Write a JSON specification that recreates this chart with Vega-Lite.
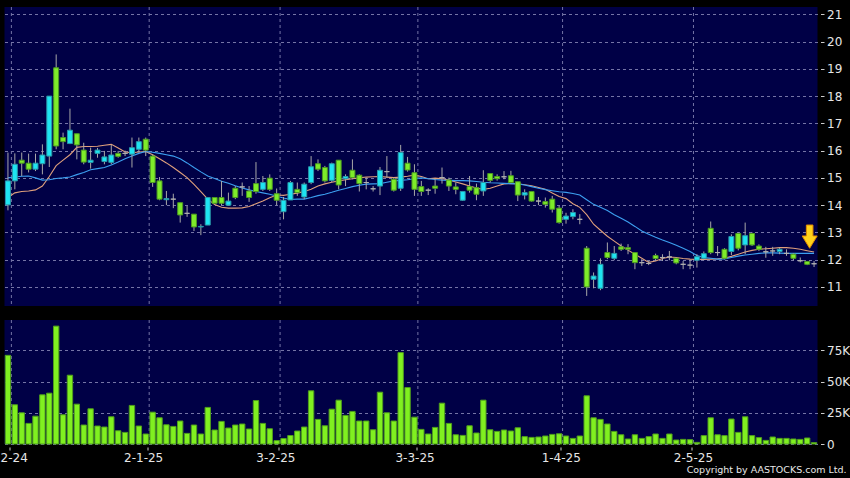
{
  "$schema": "https://vega.github.io/schema/vega-lite/v6.json",
  "background": "#000000",
  "padding": {"left": -19.5, "top": 6, "right": 0, "bottom": 3},
  "autosize": {"type": "pad"},
  "bounds": "flush",
  "spacing": 14,
  "title": {"text": "Copyright by AASTOCKS.com Ltd.", "orient": "bottom", "anchor": "end", "font": "DejaVu Sans", "fontSize": 9.5, "fontWeight": "normal", "color": "#e8e8e8", "offset": 2, "dx": -3},
  "config": {
    "view": {"fill": "#000046", "stroke": null},
    "axis": {"labelFont": "DejaVu Sans", "labelFontSize": 12, "labelColor": "#e6e6e6", "tickColor": "#cccccc", "domain": false, "gridColor": "#7474a6", "gridDash": [3, 3], "gridWidth": 1}
  },
  "datasets": {
    "p": [
      {"d":"2024-12-02","o":14.01,"h":15.93,"l":13.81,"c":14.89,"v":71000,"m1":14.28,"m2":15.0},
      {"d":"2024-12-03","o":14.89,"h":15.9,"l":14.58,"c":15.5,"v":31400,"m1":14.45,"m2":15.03},
      {"d":"2024-12-04","o":15.65,"h":15.93,"l":15.07,"c":15.54,"v":25000,"m1":14.5,"m2":15.06},
      {"d":"2024-12-05","o":15.54,"h":15.89,"l":15.2,"c":15.32,"v":16500,"m1":14.52,"m2":15.07},
      {"d":"2024-12-06","o":15.32,"h":15.89,"l":15.25,"c":15.54,"v":22300,"m1":14.56,"m2":15.0},
      {"d":"2024-12-09","o":15.52,"h":16.23,"l":15.13,"c":15.84,"v":39400,"m1":14.7,"m2":14.92},
      {"d":"2024-12-10","o":15.8,"h":18.0,"l":15.4,"c":18.0,"v":40700,"m1":15.05,"m2":14.93},
      {"d":"2024-12-11","o":19.04,"h":19.53,"l":16.05,"c":16.17,"v":94400,"m1":15.45,"m2":14.98},
      {"d":"2024-12-12","o":16.48,"h":16.66,"l":16.05,"c":16.33,"v":23400,"m1":15.65,"m2":15.0},
      {"d":"2024-12-13","o":16.26,"h":17.54,"l":16.24,"c":16.75,"v":55100,"m1":15.85,"m2":15.03},
      {"d":"2024-12-16","o":16.62,"h":16.62,"l":15.68,"c":16.21,"v":31900,"m1":16.12,"m2":15.12},
      {"d":"2024-12-17","o":16.02,"h":16.29,"l":15.5,"c":15.58,"v":15200,"m1":16.15,"m2":15.2},
      {"d":"2024-12-18","o":15.57,"h":16.11,"l":15.34,"c":15.65,"v":28200,"m1":16.15,"m2":15.3},
      {"d":"2024-12-19","o":15.9,"h":16.1,"l":15.74,"c":16.02,"v":14400,"m1":16.16,"m2":15.34},
      {"d":"2024-12-20","o":15.6,"h":15.99,"l":15.5,"c":15.77,"v":13600,"m1":16.2,"m2":15.38},
      {"d":"2024-12-23","o":15.57,"h":16.21,"l":15.5,"c":15.84,"v":21800,"m1":16.23,"m2":15.47},
      {"d":"2024-12-24","o":15.9,"h":15.99,"l":15.74,"c":15.79,"v":10600,"m1":16.1,"m2":15.58},
      {"d":"2024-12-27","o":15.9,"h":16.0,"l":15.8,"c":15.9,"v":9300,"m1":15.95,"m2":15.7},
      {"d":"2024-12-30","o":15.87,"h":16.48,"l":15.38,"c":16.11,"v":30900,"m1":15.92,"m2":15.8},
      {"d":"2024-12-31","o":16.05,"h":16.48,"l":15.93,"c":16.33,"v":14400,"m1":15.95,"m2":15.9},
      {"d":"2025-01-02","o":16.42,"h":16.48,"l":15.8,"c":16.02,"v":8000,"m1":15.97,"m2":15.97},
      {"d":"2025-01-03","o":15.8,"h":15.85,"l":14.67,"c":14.83,"v":25500,"m1":15.85,"m2":15.94},
      {"d":"2025-01-06","o":14.89,"h":15.03,"l":14.18,"c":14.22,"v":21000,"m1":15.7,"m2":15.9},
      {"d":"2025-01-07","o":14.2,"h":14.52,"l":14.0,"c":14.24,"v":15400,"m1":15.55,"m2":15.85},
      {"d":"2025-01-08","o":14.22,"h":14.42,"l":13.89,"c":14.22,"v":14100,"m1":15.38,"m2":15.8},
      {"d":"2025-01-09","o":14.09,"h":14.09,"l":13.36,"c":13.64,"v":18400,"m1":15.2,"m2":15.7},
      {"d":"2025-01-10","o":13.7,"h":13.97,"l":13.57,"c":13.7,"v":8500,"m1":15.01,"m2":15.55},
      {"d":"2025-01-13","o":13.67,"h":13.67,"l":13.05,"c":13.2,"v":15200,"m1":14.76,"m2":15.38},
      {"d":"2025-01-14","o":13.2,"h":13.3,"l":12.9,"c":13.22,"v":8000,"m1":14.5,"m2":15.22},
      {"d":"2025-01-15","o":13.27,"h":14.3,"l":13.27,"c":14.28,"v":29300,"m1":14.22,"m2":15.07},
      {"d":"2025-01-16","o":14.28,"h":14.28,"l":14.07,"c":14.07,"v":11200,"m1":14.02,"m2":14.98},
      {"d":"2025-01-17","o":14.28,"h":14.89,"l":14.0,"c":14.07,"v":18100,"m1":13.92,"m2":14.88},
      {"d":"2025-01-20","o":14.0,"h":14.46,"l":13.98,"c":14.15,"v":12800,"m1":13.89,"m2":14.8},
      {"d":"2025-01-21","o":14.62,"h":14.7,"l":14.22,"c":14.28,"v":15200,"m1":13.89,"m2":14.71},
      {"d":"2025-01-22","o":14.67,"h":14.83,"l":14.34,"c":14.67,"v":16000,"m1":13.9,"m2":14.63},
      {"d":"2025-01-23","o":14.52,"h":14.7,"l":14.12,"c":14.28,"v":12000,"m1":13.95,"m2":14.56},
      {"d":"2025-01-24","o":14.79,"h":15.58,"l":14.42,"c":14.5,"v":34800,"m1":14.05,"m2":14.5},
      {"d":"2025-01-27","o":14.58,"h":15.07,"l":14.52,"c":14.83,"v":16500,"m1":14.15,"m2":14.45},
      {"d":"2025-01-28","o":14.99,"h":15.13,"l":14.52,"c":14.58,"v":12200,"m1":14.27,"m2":14.4},
      {"d":"2025-02-03","o":14.42,"h":14.61,"l":14.0,"c":14.18,"v":2700,"m1":14.37,"m2":14.33},
      {"d":"2025-02-04","o":13.76,"h":14.3,"l":13.48,"c":14.18,"v":4400,"m1":14.36,"m2":14.26},
      {"d":"2025-02-05","o":14.19,"h":14.89,"l":14.19,"c":14.83,"v":6800,"m1":14.4,"m2":14.21},
      {"d":"2025-02-06","o":14.58,"h":14.83,"l":14.34,"c":14.46,"v":10400,"m1":14.44,"m2":14.22},
      {"d":"2025-02-07","o":14.3,"h":14.83,"l":14.22,"c":14.77,"v":13600,"m1":14.5,"m2":14.22},
      {"d":"2025-02-10","o":14.83,"h":15.8,"l":14.77,"c":15.41,"v":42600,"m1":14.58,"m2":14.28},
      {"d":"2025-02-11","o":15.52,"h":15.68,"l":15.25,"c":15.32,"v":19700,"m1":14.7,"m2":14.35},
      {"d":"2025-02-12","o":15.38,"h":15.44,"l":14.83,"c":14.89,"v":14600,"m1":14.78,"m2":14.4},
      {"d":"2025-02-13","o":14.91,"h":15.56,"l":14.85,"c":15.52,"v":27900,"m1":14.84,"m2":14.47},
      {"d":"2025-02-14","o":15.65,"h":15.65,"l":14.58,"c":14.74,"v":35100,"m1":14.89,"m2":14.55},
      {"d":"2025-02-17","o":14.97,"h":15.13,"l":14.7,"c":15.05,"v":22900,"m1":14.93,"m2":14.61},
      {"d":"2025-02-18","o":15.28,"h":15.68,"l":14.95,"c":15.01,"v":26100,"m1":14.97,"m2":14.68},
      {"d":"2025-02-19","o":15.1,"h":15.13,"l":14.5,"c":14.79,"v":18400,"m1":15.0,"m2":14.73},
      {"d":"2025-02-20","o":14.83,"h":15.01,"l":14.58,"c":14.83,"v":18400,"m1":15.03,"m2":14.77},
      {"d":"2025-02-21","o":14.6,"h":14.7,"l":14.5,"c":14.6,"v":11400,"m1":15.04,"m2":14.78},
      {"d":"2025-02-24","o":14.7,"h":15.4,"l":14.37,"c":15.28,"v":41500,"m1":15.05,"m2":14.79},
      {"d":"2025-02-25","o":15.23,"h":15.8,"l":15.01,"c":15.23,"v":25000,"m1":15.03,"m2":14.84},
      {"d":"2025-02-26","o":14.95,"h":15.0,"l":14.5,"c":14.55,"v":18400,"m1":15.01,"m2":14.89},
      {"d":"2025-02-27","o":14.62,"h":16.21,"l":14.52,"c":15.93,"v":73200,"m1":15.03,"m2":14.91},
      {"d":"2025-02-28","o":15.54,"h":15.77,"l":15.23,"c":15.29,"v":45200,"m1":15.06,"m2":14.93},
      {"d":"2025-03-03","o":15.19,"h":15.5,"l":14.34,"c":14.58,"v":21500,"m1":15.1,"m2":14.97},
      {"d":"2025-03-04","o":14.68,"h":14.89,"l":14.34,"c":14.5,"v":11700,"m1":15.05,"m2":15.0},
      {"d":"2025-03-05","o":14.55,"h":14.62,"l":14.37,"c":14.55,"v":8000,"m1":14.97,"m2":14.97},
      {"d":"2025-03-06","o":14.7,"h":14.95,"l":14.42,"c":14.62,"v":13300,"m1":14.99,"m2":14.94},
      {"d":"2025-03-07","o":15.01,"h":15.38,"l":14.79,"c":15.01,"v":32700,"m1":14.97,"m2":14.92},
      {"d":"2025-03-10","o":14.92,"h":15.01,"l":14.52,"c":14.7,"v":16500,"m1":14.92,"m2":14.91},
      {"d":"2025-03-11","o":14.67,"h":14.83,"l":14.4,"c":14.58,"v":7400,"m1":14.85,"m2":14.9},
      {"d":"2025-03-12","o":14.18,"h":14.52,"l":14.16,"c":14.5,"v":6900,"m1":14.78,"m2":14.9},
      {"d":"2025-03-13","o":14.68,"h":15.07,"l":14.46,"c":14.55,"v":14600,"m1":14.7,"m2":14.89},
      {"d":"2025-03-14","o":14.64,"h":14.79,"l":14.18,"c":14.4,"v":8800,"m1":14.63,"m2":14.87},
      {"d":"2025-03-17","o":14.52,"h":15.28,"l":14.34,"c":14.83,"v":35100,"m1":14.58,"m2":14.84},
      {"d":"2025-03-18","o":15.16,"h":15.16,"l":14.83,"c":14.91,"v":11400,"m1":14.62,"m2":14.82},
      {"d":"2025-03-19","o":15.05,"h":15.13,"l":14.9,"c":14.97,"v":10100,"m1":14.7,"m2":14.81},
      {"d":"2025-03-20","o":15.04,"h":15.25,"l":14.95,"c":15.04,"v":11200,"m1":14.78,"m2":14.8},
      {"d":"2025-03-21","o":15.08,"h":15.26,"l":14.79,"c":14.83,"v":10400,"m1":14.8,"m2":14.79},
      {"d":"2025-03-24","o":14.86,"h":14.86,"l":14.15,"c":14.37,"v":13000,"m1":14.78,"m2":14.78},
      {"d":"2025-03-25","o":14.37,"h":14.58,"l":14.21,"c":14.46,"v":5900,"m1":14.75,"m2":14.74},
      {"d":"2025-03-26","o":14.5,"h":14.52,"l":14.13,"c":14.15,"v":5300,"m1":14.71,"m2":14.68},
      {"d":"2025-03-27","o":14.15,"h":14.3,"l":14.0,"c":14.15,"v":5600,"m1":14.65,"m2":14.62},
      {"d":"2025-03-28","o":14.13,"h":14.28,"l":13.91,"c":14.03,"v":6400,"m1":14.58,"m2":14.57},
      {"d":"2025-03-31","o":14.22,"h":14.34,"l":13.73,"c":13.85,"v":7700,"m1":14.45,"m2":14.53},
      {"d":"2025-04-01","o":13.89,"h":13.97,"l":13.32,"c":13.36,"v":8200,"m1":14.32,"m2":14.49},
      {"d":"2025-04-02","o":13.48,"h":13.72,"l":13.32,"c":13.6,"v":6400,"m1":14.24,"m2":14.47},
      {"d":"2025-04-03","o":13.58,"h":13.85,"l":13.48,"c":13.73,"v":4500,"m1":14.05,"m2":14.43},
      {"d":"2025-04-07","o":13.48,"h":13.67,"l":13.3,"c":13.48,"v":6400,"m1":13.92,"m2":14.37},
      {"d":"2025-04-08","o":12.42,"h":12.5,"l":10.67,"c":11.0,"v":38600,"m1":13.65,"m2":14.2},
      {"d":"2025-04-09","o":11.28,"h":11.53,"l":10.95,"c":11.4,"v":21000,"m1":13.3,"m2":14.03},
      {"d":"2025-04-10","o":10.95,"h":12.05,"l":10.88,"c":11.83,"v":19700,"m1":13.08,"m2":13.92},
      {"d":"2025-04-11","o":12.26,"h":12.63,"l":12.02,"c":12.08,"v":16000,"m1":12.86,"m2":13.8},
      {"d":"2025-04-14","o":12.05,"h":12.5,"l":11.98,"c":12.23,"v":10100,"m1":12.68,"m2":13.65},
      {"d":"2025-04-15","o":12.47,"h":12.59,"l":12.32,"c":12.38,"v":7400,"m1":12.5,"m2":13.52},
      {"d":"2025-04-16","o":12.44,"h":12.57,"l":12.2,"c":12.38,"v":4000,"m1":12.35,"m2":13.38},
      {"d":"2025-04-17","o":12.26,"h":12.26,"l":11.65,"c":11.89,"v":7400,"m1":12.2,"m2":13.22},
      {"d":"2025-04-22","o":11.89,"h":12.02,"l":11.77,"c":11.89,"v":4500,"m1":12.05,"m2":13.05},
      {"d":"2025-04-23","o":11.86,"h":11.95,"l":11.8,"c":11.86,"v":5900,"m1":11.9,"m2":12.93},
      {"d":"2025-04-24","o":12.15,"h":12.22,"l":11.95,"c":12.04,"v":8000,"m1":11.95,"m2":12.82},
      {"d":"2025-04-25","o":12.08,"h":12.2,"l":11.95,"c":12.08,"v":4500,"m1":12.04,"m2":12.72},
      {"d":"2025-04-28","o":12.1,"h":12.32,"l":11.98,"c":12.1,"v":8000,"m1":12.1,"m2":12.63},
      {"d":"2025-04-29","o":12.05,"h":12.08,"l":11.83,"c":11.88,"v":3200,"m1":12.08,"m2":12.53},
      {"d":"2025-04-30","o":11.83,"h":11.95,"l":11.65,"c":11.83,"v":3700,"m1":12.04,"m2":12.42},
      {"d":"2025-05-02","o":11.8,"h":12.0,"l":11.65,"c":11.8,"v":3500,"m1":12.02,"m2":12.3},
      {"d":"2025-05-06","o":11.98,"h":12.2,"l":11.71,"c":12.11,"v":1300,"m1":12.01,"m2":12.15},
      {"d":"2025-05-07","o":12.05,"h":12.3,"l":11.98,"c":12.22,"v":6700,"m1":12.01,"m2":12.08},
      {"d":"2025-05-08","o":13.15,"h":13.4,"l":12.2,"c":12.26,"v":21000,"m1":12.02,"m2":12.05},
      {"d":"2025-05-09","o":12.26,"h":12.5,"l":12.14,"c":12.26,"v":7400,"m1":12.03,"m2":12.02},
      {"d":"2025-05-12","o":12.38,"h":12.42,"l":12.01,"c":12.05,"v":6700,"m1":12.05,"m2":12.03},
      {"d":"2025-05-13","o":12.3,"h":12.93,"l":12.17,"c":12.85,"v":20000,"m1":12.12,"m2":12.08},
      {"d":"2025-05-14","o":12.96,"h":13.0,"l":12.34,"c":12.42,"v":9300,"m1":12.2,"m2":12.13},
      {"d":"2025-05-15","o":12.54,"h":13.36,"l":12.2,"c":12.88,"v":21800,"m1":12.28,"m2":12.17},
      {"d":"2025-05-16","o":12.96,"h":13.0,"l":12.5,"c":12.54,"v":6700,"m1":12.34,"m2":12.2},
      {"d":"2025-05-19","o":12.5,"h":12.56,"l":12.32,"c":12.38,"v":5100,"m1":12.38,"m2":12.23},
      {"d":"2025-05-20","o":12.29,"h":12.47,"l":12.07,"c":12.29,"v":2900,"m1":12.4,"m2":12.25},
      {"d":"2025-05-21","o":12.32,"h":12.47,"l":12.14,"c":12.32,"v":5600,"m1":12.42,"m2":12.25},
      {"d":"2025-05-22","o":12.3,"h":12.44,"l":12.2,"c":12.38,"v":4500,"m1":12.44,"m2":12.24},
      {"d":"2025-05-23","o":12.23,"h":12.38,"l":12.14,"c":12.23,"v":4500,"m1":12.44,"m2":12.23},
      {"d":"2025-05-26","o":12.2,"h":12.24,"l":11.98,"c":12.05,"v":4000,"m1":12.42,"m2":12.23},
      {"d":"2025-05-27","o":11.96,"h":12.08,"l":11.9,"c":11.96,"v":3700,"m1":12.38,"m2":12.23},
      {"d":"2025-05-28","o":11.93,"h":11.95,"l":11.8,"c":11.83,"v":4800,"m1":12.33,"m2":12.23},
      {"d":"2025-05-29","o":11.85,"h":11.95,"l":11.73,"c":11.85,"v":1100,"m1":12.28,"m2":12.23}
    ],
    "arrow": [{"d": "2025-05-28", "y": 12.85}]
  },
  "vconcat": [
    {
      "width": 813,
      "height": 299,
      "data": {"name": "p"},
      "layer": [
        {
          "transform": [{"filter": {"field": "d", "oneOf": ["2024-12-02","2025-01-02","2025-02-03","2025-03-03","2025-04-01","2025-05-02"]}}],
          "mark": {"type": "rule", "color": "#7474a6", "strokeDash": [3, 3], "strokeWidth": 1},
          "encoding": {
            "x": {"field": "d", "type": "ordinal", "bandPosition": 1, "axis": null, "scale": {"type": "band", "paddingInner": 0, "paddingOuter": 0}}
          }
        },
        {
          "mark": {"type": "line", "color": "#e0a07c", "strokeWidth": 1.1},
          "encoding": {
            "x": {"field": "d", "type": "ordinal", "axis": null, "scale": {"type": "band", "paddingInner": 0, "paddingOuter": 0}},
            "y": {"field": "m1", "type": "quantitative", "scale": {"domain": [10.3, 21.27], "nice": false, "zero": false},
                  "axis": {"orient": "right", "title": null, "values": [11,12,13,14,15,16,17,18,19,20,21], "grid": true, "offset": 3, "tickSize": 3.5, "labelPadding": 2.5}}
          }
        },
        {
          "mark": {"type": "line", "color": "#3c9ff0", "strokeWidth": 1.1},
          "encoding": {
            "x": {"field": "d", "type": "ordinal", "axis": null, "scale": {"type": "band", "paddingInner": 0, "paddingOuter": 0}},
            "y": {"field": "m2", "type": "quantitative", "scale": {"domain": [10.3, 21.27], "nice": false, "zero": false},
                  "axis": {"orient": "right", "title": null, "values": [11,12,13,14,15,16,17,18,19,20,21], "grid": true, "offset": 3, "tickSize": 3.5, "labelPadding": 2.5}}
          }
        },
        {
          "mark": {"type": "rule", "color": "#a8a8a8", "strokeWidth": 1},
          "encoding": {
            "x": {"field": "d", "type": "ordinal", "axis": null, "scale": {"type": "band", "paddingInner": 0, "paddingOuter": 0}},
            "y": {"field": "l", "type": "quantitative", "scale": {"domain": [10.3, 21.27], "nice": false, "zero": false},
                  "axis": {"orient": "right", "title": null, "values": [11,12,13,14,15,16,17,18,19,20,21], "grid": true, "offset": 3, "tickSize": 3.5, "labelPadding": 2.5}},
            "y2": {"field": "h"}
          }
        },
        {
          "mark": {"type": "bar", "width": {"band": 0.72}, "strokeWidth": 1},
          "encoding": {
            "x": {"field": "d", "type": "ordinal", "axis": null, "scale": {"type": "band", "paddingInner": 0, "paddingOuter": 0}},
            "y": {"field": "o", "type": "quantitative", "scale": {"domain": [10.3, 21.27], "nice": false, "zero": false},
                  "axis": {"orient": "right", "title": null, "values": [11,12,13,14,15,16,17,18,19,20,21], "grid": true, "offset": 3, "tickSize": 3.5, "labelPadding": 2.5}},
            "y2": {"field": "c"},
            "fill": {"condition": [{"test": "datum.c > datum.o", "value": "#1ee4f2"}, {"test": "datum.c < datum.o", "value": "#7eec2a"}], "value": "#b0b0b0"},
            "stroke": {"condition": [{"test": "datum.c > datum.o", "value": "#2a98a8"}, {"test": "datum.c < datum.o", "value": "#4c9a22"}], "value": "#b0b0b0"}
          }
        },
        {
          "data": {"name": "arrow"},
          "mark": {"type": "point", "shape": "M-0.44,-1.53 L0.44,-1.53 L0.44,-0.07 L1,-0.07 L0,1.57 L-1,-0.07 L-0.44,-0.07 Z", "size": 225, "filled": true, "fill": "#ffd21a", "stroke": "#e08a00", "strokeWidth": 1, "opacity": 1, "xOffset": 2.5},
          "encoding": {
            "x": {"field": "d", "type": "ordinal", "axis": null, "scale": {"type": "band", "paddingInner": 0, "paddingOuter": 0}},
            "y": {"field": "y", "type": "quantitative", "scale": {"domain": [10.3, 21.27], "nice": false, "zero": false},
                  "axis": {"orient": "right", "title": null, "values": [11,12,13,14,15,16,17,18,19,20,21], "grid": true, "offset": 3, "tickSize": 3.5, "labelPadding": 2.5}}
          }
        }
      ]
    },
    {
      "width": 813,
      "height": 124,
      "data": {"name": "p"},
      "layer": [
        {
          "transform": [{"filter": {"field": "d", "oneOf": ["2024-12-02","2025-01-02","2025-02-03","2025-03-03","2025-04-01","2025-05-02"]}}],
          "mark": {"type": "rule", "color": "#7474a6", "strokeDash": [3, 3], "strokeWidth": 1},
          "encoding": {
            "x": {"field": "d", "type": "ordinal", "bandPosition": 1, "scale": {"type": "band", "paddingInner": 0, "paddingOuter": 0},
                  "axis": {"title": null, "values": ["2024-12-02","2025-01-02","2025-02-03","2025-03-03","2025-04-01","2025-05-02"], "labelExpr": "toNumber(slice(datum.value,8,10)) + '-' + toNumber(slice(datum.value,5,7)) + '-' + slice(datum.value,2,4)", "labelAngle": 0, "bandPosition": 0.8, "offset": 3, "tickSize": 3, "labelPadding": 2, "grid": false,
                           "labelOffset": {"condition": [{"test": "datum.value == '2024-12-02'", "value": -3.5}, {"test": "datum.value == '2025-01-02'", "value": -2.1}, {"test": "datum.value == '2025-02-03'", "value": -0.8}, {"test": "datum.value == '2025-03-03'", "value": 0.6}, {"test": "datum.value == '2025-04-01'", "value": 2.1}], "value": 3.4}}}
          }
        },
        {
          "mark": {"type": "bar", "width": {"band": 0.78}, "fill": "#80f020", "stroke": "#4f9e1c", "strokeWidth": 1},
          "encoding": {
            "x": {"field": "d", "type": "ordinal", "scale": {"type": "band", "paddingInner": 0, "paddingOuter": 0},
                  "axis": {"title": null, "values": ["2024-12-02","2025-01-02","2025-02-03","2025-03-03","2025-04-01","2025-05-02"], "labelExpr": "toNumber(slice(datum.value,8,10)) + '-' + toNumber(slice(datum.value,5,7)) + '-' + slice(datum.value,2,4)", "labelAngle": 0, "bandPosition": 0.8, "offset": 3, "tickSize": 3, "labelPadding": 2, "grid": false,
                           "labelOffset": {"condition": [{"test": "datum.value == '2024-12-02'", "value": -3.5}, {"test": "datum.value == '2025-01-02'", "value": -2.1}, {"test": "datum.value == '2025-02-03'", "value": -0.8}, {"test": "datum.value == '2025-03-03'", "value": 0.6}, {"test": "datum.value == '2025-04-01'", "value": 2.1}], "value": 3.4}}},
            "y": {"field": "v", "type": "quantitative", "scale": {"domain": [0, 99300], "nice": false},
                  "axis": {"orient": "right", "title": null, "values": [0, 25000, 50000, 75000], "labelExpr": "datum.value == 0 ? '0' : (datum.value / 1000) + 'K'", "grid": true, "offset": 3, "tickSize": 3.5, "labelPadding": 2.5}}
          }
        }
      ]
    }
  ]
}
